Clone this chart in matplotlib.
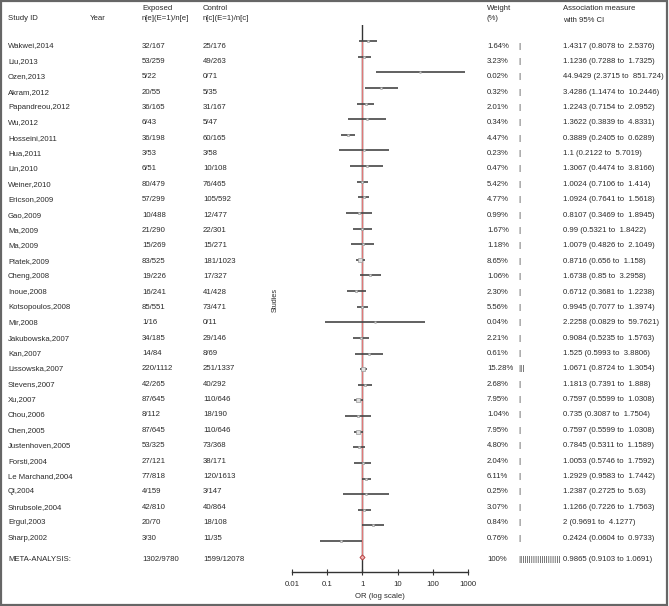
import matplotlib
matplotlib.use("Agg")
import matplotlib.pyplot as plt
from matplotlib.patches import Rectangle
import numpy as np

plt.rcParams['font.family'] = ['Liberation Sans', 'DejaVu Sans']

# ---- data ----
studies = ["Wakwei,2014", "Liu,2013", "Ozen,2013", "Akram,2012", "Papandreou,2012",
           "Wu,2012", "Hosseini,2011", "Hua,2011", "Lin,2010", "Weiner,2010",
           "Ericson,2009", "Gao,2009", "Ma,2009", "Ma,2009", "Platek,2009",
           "Cheng,2008", "Inoue,2008", "Kotsopoulos,2008", "Mir,2008",
           "Jakubowska,2007", "Kan,2007", "Lissowska,2007", "Stevens,2007",
           "Xu,2007", "Chou,2006", "Chen,2005", "Justenhoven,2005", "Forsti,2004",
           "Le Marchand,2004", "Qi,2004", "Shrubsole,2004", "Ergul,2003", "Sharp,2002"]
exposed = ["32/167", "53/259", "5/22", "20/55", "36/165", "6/43", "36/198", "3/53",
           "6/51", "80/479", "57/299", "10/488", "21/290", "15/269", "83/525",
           "19/226", "16/241", "85/551", "1/16", "34/185", "14/84", "220/1112",
           "42/265", "87/645", "8/112", "87/645", "53/325", "27/121", "77/818",
           "4/159", "42/810", "20/70", "3/30"]
control = ["25/176", "49/263", "0/71", "5/35", "31/167", "5/47", "60/165", "3/58",
           "10/108", "76/465", "105/592", "12/477", "22/301", "15/271", "181/1023",
           "17/327", "41/428", "73/471", "0/11", "29/146", "8/69", "251/1337",
           "40/292", "110/646", "18/190", "110/646", "73/368", "38/171", "120/1613",
           "3/147", "40/864", "18/108", "11/35"]
weights = [1.64, 3.23, 0.02, 0.32, 2.01, 0.34, 4.47, 0.23, 0.47, 5.42, 4.77, 0.99,
           1.67, 1.18, 8.65, 1.06, 2.30, 5.56, 0.04, 2.21, 0.61, 15.28, 2.68, 7.95,
           1.04, 7.95, 4.80, 2.04, 6.11, 0.25, 3.07, 0.84, 0.76]
odds = [1.4317, 1.1236, 44.9429, 3.4286, 1.2243, 1.3622, 0.3889, 1.1, 1.3067, 1.0024,
        1.0924, 0.8107, 0.99, 1.0079, 0.8716, 1.6738, 0.6712, 0.9945, 2.2258, 0.9084,
        1.525, 1.0671, 1.1813, 0.7597, 0.735, 0.7597, 0.7845, 1.0053, 1.2929, 1.2387,
        1.1266, 2, 0.2424]
ci_low = [0.8078, 0.7288, 2.3715, 1.1474, 0.7154, 0.3839, 0.2405, 0.2122, 0.4474,
          0.7106, 0.7641, 0.3469, 0.5321, 0.4826, 0.656, 0.85, 0.3681, 0.7077, 0.0829,
          0.5235, 0.5993, 0.8724, 0.7391, 0.5599, 0.3087, 0.5599, 0.5311, 0.5746,
          0.9583, 0.2725, 0.7226, 0.9691, 0.0604]
ci_high = [2.5376, 1.7325, 851.724, 10.2446, 2.0952, 4.8331, 0.6289, 5.7019, 3.8166,
           1.414, 1.5618, 1.8945, 1.8422, 2.1049, 1.158, 3.2958, 1.2238, 1.3974,
           59.7621, 1.5763, 3.8806, 1.3054, 1.888, 1.0308, 1.7504, 1.0308, 1.1589,
           1.7592, 1.7442, 5.63, 1.7563, 4.1277, 0.9733]
meta_label = "META-ANALYSIS:"
meta_exposed = "1302/9780"
meta_control = "1599/12078"
meta_weight = 100
meta_or, meta_low, meta_high = 0.9865, 0.9103, 1.0691
ticks = [0.01, 0.1, 1, 10, 100, 1000]
tick_labels = ["0.01", "0.1", "1", "10", "100", "1000"]

W, H = 669, 606
fig = plt.figure(figsize=(W / 100, H / 100), dpi=100)
fig.patch.set_facecolor("white")

def px(x, y):
    return x / W, 1 - y / H

fs = 5.6
tc = "#2a2a2a"

def put(x, y, s, **kw):
    fx, fy = px(x, y)
    fig.text(fx, fy, s, fontsize=kw.pop("fontsize", fs), color=kw.pop("color", tc),
             va="center", ha=kw.pop("ha", "left"), **kw)

# headers
put(8, 18, "Study ID")
put(90, 18, "Year")
put(142, 8, "Exposed")
put(142, 18, "n[e](E=1)/n[e]")
put(203, 8, "Control")
put(203, 18, "n[c](E=1)/n[c]")
put(487, 8, "Weight")
put(487, 18, "(%)")
put(563, 9, "Association measure")
put(563, 20, "with 95% CI")

# study rows (text columns)
row0, step = 46.0, 15.375
for i in range(len(studies)):
    y = row0 + step * i
    put(8, y, studies[i])
    put(142, y, exposed[i])
    put(203, y, control[i])
    put(487, y, f"{weights[i]:.2f}%")
    put(518, y, "|" * max(1, int(weights[i] // 5)))
    put(563, y, f"{odds[i]:g} ({ci_low[i]:g} to  {ci_high[i]:g})")

ym = 559.3
put(8, ym, meta_label)
put(142, ym, meta_exposed)
put(203, ym, meta_control)
put(487, ym, f"{meta_weight}%")
put(518, ym, "|" * int(meta_weight // 5))
put(563, ym, f"{meta_or:g} ({meta_low:g} to {meta_high:g})")

put(275, 300, "Studies", rotation=90, ha="center", fontsize=5.2)

# forest plot axes
x0, x1 = 292.3, 467.7
yt, yb = 25.4, 572.3
ax = fig.add_axes([x0 / W, 1 - yb / H, (x1 - x0) / W, (yb - yt) / H])
ax.set_xscale("log")
ax.set_xlim(0.01, 1000)
ax.set_ylim(34, -1)
ax.patch.set_alpha(0)

n = len(studies)
rows = np.arange(n)
ax.axvline(1, color="#333333", lw=1.0, zorder=1)
ax.plot([meta_or, meta_or], [0, n], color="#e07878", lw=0.9, zorder=2)
for i in range(n):
    ax.plot([ci_low[i], ci_high[i]], [rows[i], rows[i]], color="#454545", lw=1.2,
            solid_capstyle="butt", zorder=3)
    ax.plot(odds[i], rows[i], marker="s", ms=1.0 + 0.45 * np.sqrt(weights[i]),
            mfc="#e0e0e0", mec="#999999", mew=0.5, zorder=4)
ax.plot([meta_low, meta_high], [n, n], color="#454545", lw=1.0, zorder=3)
ax.plot(meta_or, n, marker="D", ms=2.6, mfc="#f2b0b0", mec="#b03a3a", mew=0.6, zorder=5)

for s in ["top", "right", "left"]:
    ax.spines[s].set_visible(False)
ax.spines["bottom"].set_color("#333333")
ax.spines["bottom"].set_linewidth(1.0)
ax.set_yticks([])
ax.set_xticks(ticks)
ax.set_xticklabels(tick_labels)
ax.minorticks_off()
ax.tick_params(axis="x", direction="inout", length=4, width=0.8, color="#333333",
               labelsize=fs, labelcolor=tc, pad=4)
ax.set_xlabel("OR (log scale)", fontsize=fs, color=tc, labelpad=4)

# outer frame
fig.add_artist(Rectangle((0.0015, 0.002), 0.995, 0.996, transform=fig.transFigure,
                         fill=False, edgecolor="#666666", lw=1.6))

fig.savefig("out.png", dpi=100)
